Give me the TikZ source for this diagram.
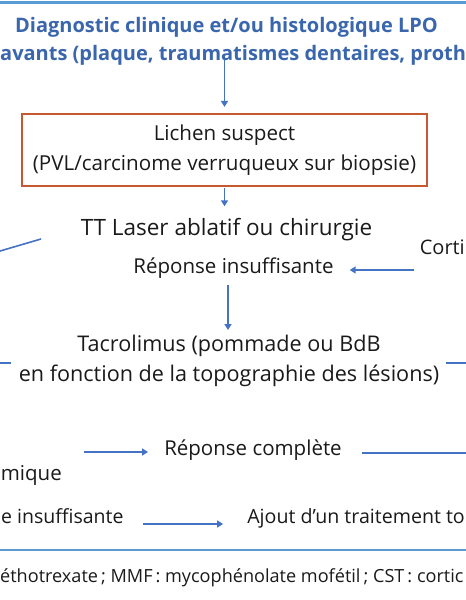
\documentclass[tikz,border=0pt]{standalone}
\usepackage{fontspec}
\setmainfont{Open Sans}
\usetikzlibrary{arrows.meta}
\definecolor{titleblue}{HTML}{3A66AE}
\definecolor{arrblue}{HTML}{4472C4}
\definecolor{ruleblue}{HTML}{5B9BD5}
\definecolor{boxred}{HTML}{C65A2E}
\definecolor{txt}{HTML}{1A1A1A}
\tikzset{
  txtnode/.style={inner sep=0pt, text=txt, font=\fontsize{20.5}{30}\selectfont, align=center},
  titlenode/.style={inner sep=0pt, text=titleblue, font=\fontsize{20}{28}\selectfont\bfseries},
  foot/.style={inner sep=0pt, text=txt, font=\fontsize{18.1}{22}\selectfont},
  arr/.style={draw=arrblue, line width=1.6pt, -{Triangle[length=6pt,width=7pt]}},
  plain/.style={draw=arrblue, line width=1.6pt},
  rulel/.style={draw=ruleblue, line width=2.5pt},
  suspect/.style={draw=boxred, line width=2.2pt, minimum width=405pt, minimum height=72pt, inner sep=0pt, text=txt, font=\fontsize{20.6}{30}\selectfont, align=center}
}
\begin{document}
\begin{tikzpicture}[x=1pt,y=-1pt]
\useasboundingbox (0,0) rectangle (466,600);
\clip (0,0) rectangle (466,600);
\fill[white] (0,0) rectangle (466,600);
% rules
\coordinate (r1a) at (-5,2.5); \coordinate (r1b) at (471,2.5);
\coordinate (r2a) at (-5,550); \coordinate (r2b) at (471,550);
\draw[rulel] (r1a) -- (r1b);
\draw[rulel] (r2a) -- (r2b);
% title
\node[titlenode, anchor=mid] (t1) at (226.5,30) {Diagnostic clinique et/ou histologique LPO};
\node[titlenode, anchor=mid west] (t2) at (0,58) {avants (plaque, traumatismes dentaires, proth};
% box
\node[suspect] (box) at (224.5,150) {Lichen suspect\\(PVL/carcinome verruqueux sur biopsie)};
\draw[arr, shorten <=-2pt, shorten >=6pt] ([yshift=5pt]box.north |- t2.south) -- (box.north);
% laser
\node[txtnode, anchor=mid, font=\fontsize{22.5}{30}\selectfont] (laser) at (226.5,233) {TT Laser ablatif ou chirurgie};
\draw[arr, shorten <=1pt, shorten >=12pt] (box.south) -- (box.south |- laser.north);
\coordinate (sl1) at (41,239); \coordinate (sl2) at (-5,252.5);
\draw[plain] (sl1) -- (sl2);
\node[txtnode, anchor=mid east, font=\fontsize{20}{30}\selectfont] (corti) at (465,252) {Corti};
\node[txtnode, anchor=mid] (rep1) at (233.5,271) {Réponse insuffisante};
\coordinate (ca) at (414,270);
\draw[arr, shorten >=16pt] (ca) -- (ca -| rep1.east);
% tacrolimus
\node[txtnode, anchor=center, font=\fontsize{21.6}{30}\selectfont] (tacro) at (229,361) {Tacrolimus (pommade ou BdB\\en fonction de la topographie des lésions)};
\draw[arr, shorten <=6pt, shorten >=5pt] (rep1.south -| 228,0) -- (228,0 |- tacro.north);
\coordinate (tl1) at (-5,363); \coordinate (tl2) at (11,363);
\coordinate (tr1) at (446,363); \coordinate (tr2) at (471,363);
\draw[plain] (tl1) -- (tl2);
\draw[plain] (tr1) -- (tr2);
% lower part
\node[txtnode, anchor=mid] (rc) at (253,453) {Réponse complète};
\coordinate (rca) at (84,452);
\draw[arr, shorten >=16pt] (rca) -- (rca -| rc.west);
\coordinate (rcb) at (471,453);
\draw[plain, shorten <=20pt] (rc.east |- rcb) -- (rcb);
\node[txtnode, anchor=mid east] (sys) at (62,478) {mique};
\node[txtnode, anchor=mid west, font=\fontsize{19.5}{30}\selectfont] (rep2) at (1,521) {e insuffisante};
\node[txtnode, anchor=mid east, font=\fontsize{19.6}{30}\selectfont] (ajout) at (465,521) {Ajout d’un traitement to};
\coordinate (aa) at (143,524);
\draw[arr, shorten >=24pt] (aa) -- (aa -| ajout.west);
% footnote
\node[foot, anchor=mid west] (fn) at (0,580) {éthotrexate\,; MMF\,: mycophénolate mofétil\,; CST\,: cortic};
\end{tikzpicture}
\end{document}
